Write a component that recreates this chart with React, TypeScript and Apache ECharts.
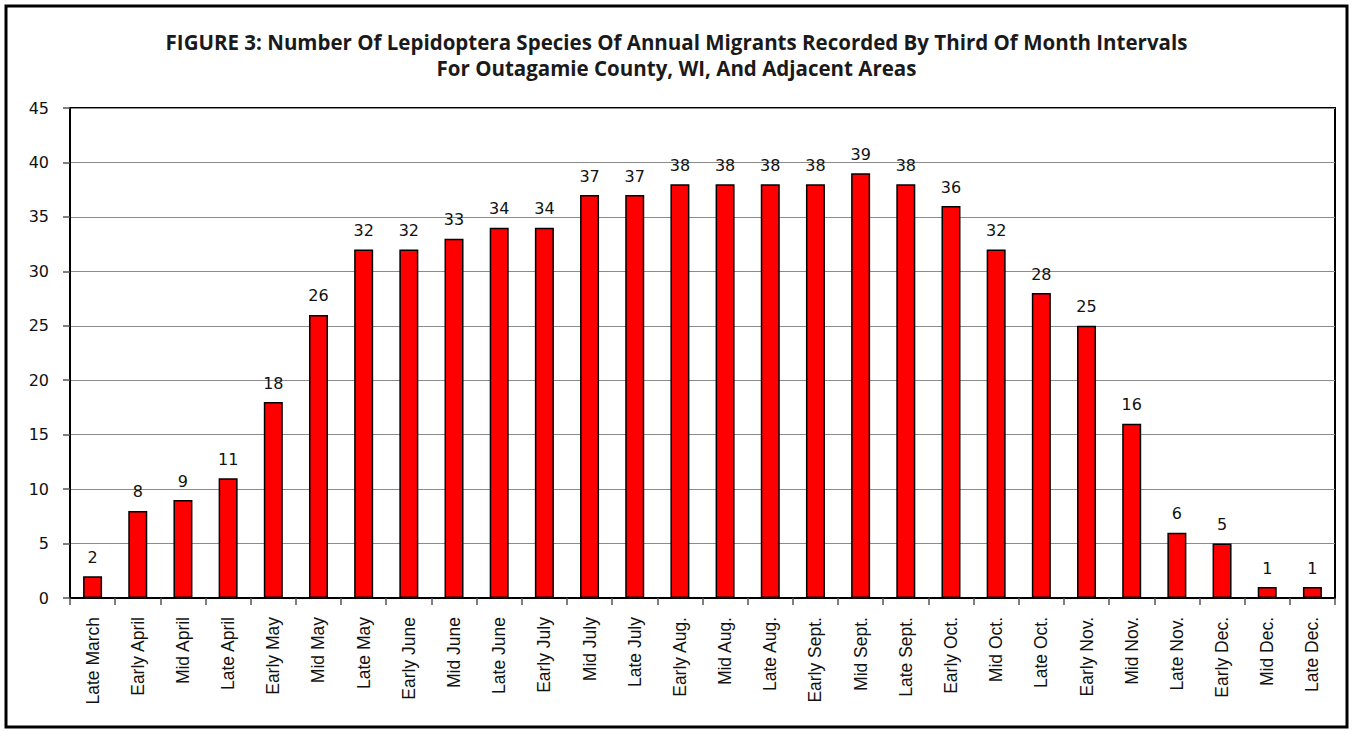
import React, { useEffect, useRef } from "react";
import * as echarts from "echarts";

const categories = [
  "Late March", "Early April", "Mid April", "Late April", "Early May", "Mid May", "Late May",
  "Early June", "Mid June", "Late June", "Early July", "Mid July", "Late July", "Early Aug.",
  "Mid Aug.", "Late Aug.", "Early Sept.", "Mid Sept.", "Late Sept.", "Early Oct.", "Mid Oct.",
  "Late Oct.", "Early Nov.", "Mid Nov.", "Late Nov.", "Early Dec.", "Mid Dec.", "Late Dec.",
];
const values = [2, 8, 9, 11, 18, 26, 32, 32, 33, 34, 34, 37, 37, 38, 38, 38, 38, 39, 38, 36, 32, 28, 25, 16, 6, 5, 1, 1];
const titleLines = [
  "FIGURE 3: Number Of Lepidoptera Species Of Annual Migrants Recorded By Third Of Month Intervals",
  "For Outagamie County, WI, And Adjacent Areas",
];

export default function App() {
  const ref = useRef<HTMLDivElement>(null);
  useEffect(() => {
    if (!ref.current) return;
    const chart = echarts.init(ref.current, null, { renderer: "svg" });
    chart.setOption({
      animation: false,
      backgroundColor: "#ffffff",
      title: {
        text: titleLines.join("\n"),
        left: "center",
        top: 24,
        textStyle: { fontFamily: "Open Sans", fontWeight: "bold", fontSize: 20.5, color: "#1a1a1a", lineHeight: 26 },
      },
      graphic: [
        {
          type: "rect",
          shape: { x: 6, y: 6, width: 1341, height: 721 },
          style: { fill: "none", stroke: "#000", lineWidth: 3 },
          silent: true,
        },
      ],
      grid: {
        left: 70, top: 108, right: 18, bottom: 133,
        show: true, borderColor: "#000", borderWidth: 2, backgroundColor: "transparent",
      },
      xAxis: {
        type: "category",
        data: categories,
        boundaryGap: true,
        axisLine: { show: true, lineStyle: { color: "#000", width: 2 } },
        axisTick: { show: true, length: 7, alignWithLabel: false, interval: 0, lineStyle: { color: "#555", width: 1.5 } },
        axisLabel: { interval: 0, rotate: 90, fontFamily: "Liberation Sans", fontSize: 17.5, color: "#111", margin: 19 },
      },
      yAxis: {
        type: "value",
        min: 0, max: 45, interval: 5,
        axisLine: { show: true, lineStyle: { color: "#000", width: 2 } },
        axisTick: { show: true, length: 7, inside: false, lineStyle: { color: "#555", width: 1.5 } },
        splitLine: { show: true, lineStyle: { color: "#8c8c8c", width: 1 } },
        axisLabel: { fontFamily: "DejaVu Sans", fontSize: 16, color: "#111", margin: 21 },
      },
      series: [
        {
          type: "bar",
          data: values,
          barWidth: 19,
          itemStyle: { color: "#ff0000", borderColor: "#000", borderWidth: 1.5 },
          label: {
            show: true, position: "top", distance: 11,
            fontFamily: "DejaVu Sans", fontSize: 16, color: "#111",
          },
        },
      ],
    });
    return () => chart.dispose();
  }, []);
  return <div ref={ref} style={{ position: "absolute", left: 0, top: 0, width: 1353, height: 731 }} />;
}
